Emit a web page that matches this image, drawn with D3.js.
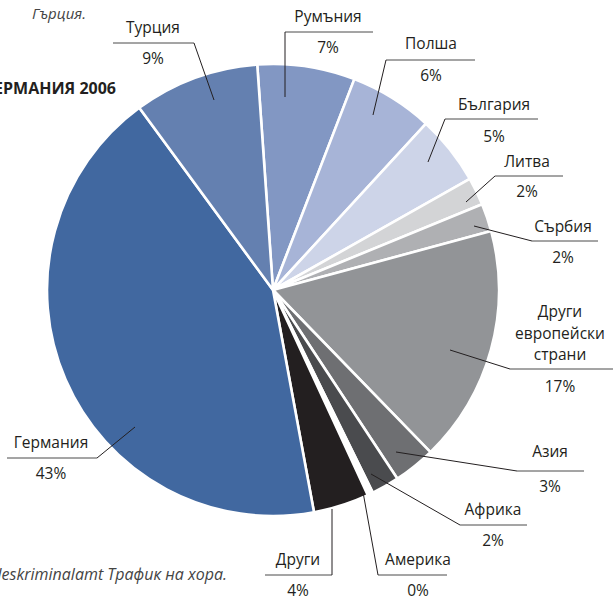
<!DOCTYPE html>
<html><head><meta charset="utf-8">
<script src="https://cdn.jsdelivr.net/npm/d3@7"></script>
<style>
html,body{margin:0;padding:0;background:#fff;overflow:hidden;}
svg{display:block;font-family:"Open Sans","Noto Sans",sans-serif;}
</style></head>
<body>
<svg id="c" width="613" height="599"></svg>
<script>
// Data
const categories = ["Румъния","Полша","България","Литва","Сърбия","Други европейски страни","Азия","Африка","Америка","Други","Германия","Турция"];
const values =     [7, 6, 5, 2, 2, 17, 3, 2, 0.4, 4, 43, 9];
const pctLabels =  ["7%","6%","5%","2%","2%","17%","3%","2%","0%","4%","43%","9%"];
const colors = ["#8297c3","#a7b4d7","#cdd4e8","#d3d4d6","#afb0b3","#929497","#6e6f72","#4a4b4e","#ffffff","#231f20","#4168a0","#6480b0"];

// Label layout: name lines, underline [x1,x2,y], leader inner point, text centre x, name baseline, pct baseline
const layout = [
  {lines:["Румъния"], cx:328, nb:22, ul:[285,373,32], lx:285, pin:[285,97], pb:53},
  {lines:["Полша"], cx:431, nb:49, ul:[386,475,60], lx:386, pin:[373,115], pb:81},
  {lines:["България"], cx:494, nb:110, ul:[445,538,119], lx:445, pin:[428,162], pb:142},
  {lines:["Литва"], cx:527, nb:167, ul:[495,563,176], lx:495, pin:[466,202], pb:197},
  {lines:["Сърбия"], cx:563, nb:232, ul:[532,598,241], lx:532, pin:[474,226], pb:263},
  {lines:["Други","европейски","страни"], cx:560, nb:317, ul:[510,620,369], lx:510, pin:[450,350], pb:392},
  {lines:["Азия"], cx:550, nb:457, ul:[517,584,471], lx:517, pin:[396,452], pb:492},
  {lines:["Африка"], cx:493, nb:515, ul:[460,527,525], lx:460, pin:[371,474], pb:546},
  {lines:["Америка"], cx:418, nb:565, ul:[378,447,575], lx:378, pin:[363,492], pb:596},
  {lines:["Други"], cx:298, nb:565, ul:[265,332,575], lx:332, pin:[332,509], pb:596},
  {lines:["Германия"], cx:51, nb:448, ul:[7,97,458], lx:97, pin:[135,427], pb:479},
  {lines:["Турция"], cx:153, nb:33, ul:[113,194,43], lx:194, pin:[214,100], pb:64}
];

const svg = d3.select("#c");
const cx = 273, cy = 290, R = 226;
const deg = Math.PI/180;

const pie = d3.pie().sort(null).value(d=>d.v).startAngle(-4*deg).endAngle(356*deg);
const data = categories.map((c,i)=>({name:c, v:values[i], color:colors[i]}));
const arcs = pie(data);
const arc = d3.arc().innerRadius(0).outerRadius(R);

const g = svg.append("g").attr("transform",`translate(${cx},${cy})`);
g.selectAll("path").data(arcs).join("path")
  .attr("d",arc)
  .attr("fill",d=>d.data.color)
  .attr("stroke","#fff").attr("stroke-width",2.6).attr("stroke-linejoin","round");

// top / side texts
svg.append("text").attr("x",86).attr("y",19).attr("text-anchor","end")
  .attr("font-style","italic").attr("font-size",15).attr("fill","#444").text("Гърция.");
svg.append("text").attr("x",116).attr("y",94).attr("text-anchor","end")
  .attr("font-weight","bold").attr("font-size",16).attr("fill","#231f20").text("ГЕРМАНИЯ 2006");
svg.append("text").attr("x",227).attr("y",580).attr("text-anchor","end")
  .attr("font-style","italic").attr("font-size",16).attr("fill","#444").text("Източник: Bundeskriminalamt Трафик на хора.");

// labels
const lab = svg.append("g").attr("fill","#231f20").attr("font-size",15.5);
layout.forEach((L,i)=>{
  lab.append("line").attr("x1",L.ul[0]).attr("x2",L.ul[1]).attr("y1",L.ul[2]).attr("y2",L.ul[2])
    .attr("stroke","#4a4a4a").attr("stroke-width",1);
  lab.append("line").attr("x1",L.lx).attr("y1",L.ul[2]).attr("x2",L.pin[0]).attr("y2",L.pin[1])
    .attr("stroke","#231f20").attr("stroke-width",1);
  L.lines.forEach((t,k)=>{
    lab.append("text").attr("x",L.cx).attr("y",L.nb + k*21.5).attr("text-anchor","middle").text(t);
  });
  lab.append("text").attr("x",L.cx).attr("y",L.pb).attr("text-anchor","middle").text(pctLabels[i]);
});
</script>
</body></html>
